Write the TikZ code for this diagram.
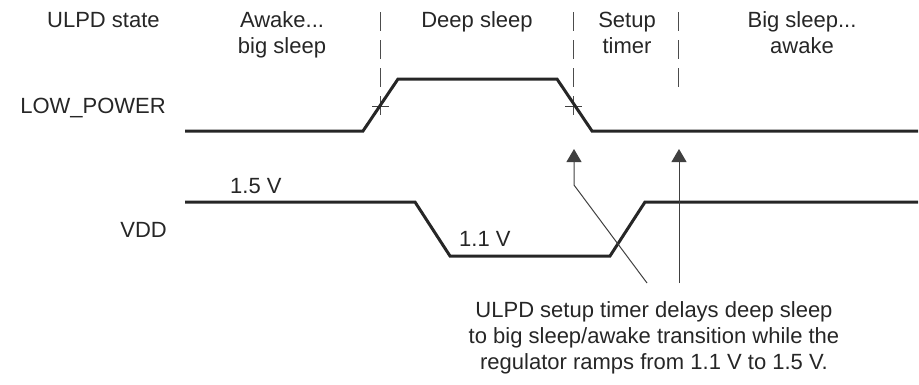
\documentclass[tikz,border=0pt]{standalone}
\usepackage{fontspec}
\setmainfont{Liberation Sans}
\usetikzlibrary{arrows.meta}
\begin{document}
\begin{tikzpicture}[x=1pt,y=-1pt,
  lbl/.style={font=\fontsize{22}{26}\selectfont, inner sep=0pt, anchor=base, text=black!85},
  sig/.style={line width=3pt, draw=black!85, line join=miter},
  guide/.style={line width=0.9pt, draw=black!70, dash pattern=on 19pt off 9pt},
  pointer/.style={line width=1pt, draw=black!75},
  tip/.style={-{Triangle[width=15pt,length=13pt]}}]
\useasboundingbox (0,0) rectangle (919,384);
% labels
\node[lbl, anchor=base west] (ulpd) at (47,27) {ULPD state};
\node[lbl] (awake1) at (282,27) {Awake...};
\node[lbl] (awake2) at (282,53) {big sleep};
\node[lbl] (deep) at (477,27) {Deep sleep};
\node[lbl] (setup1) at (627,27) {Setup};
\node[lbl] (setup2) at (627,53) {timer};
\node[lbl] (big1) at (802,27) {Big sleep...};
\node[lbl] (big2) at (802,53) {awake};
\node[lbl, anchor=base east] (lp) at (166,113) {LOW\_POWER};
\node[lbl, anchor=base east] (vdd) at (167,237) {VDD};
\node[lbl, anchor=base west] (v15) at (230,193) {1.5 V};
\node[lbl, anchor=base west] (v11) at (459,246) {1.1 V};
\node[lbl] (note1) at (654,317) {ULPD setup timer delays deep sleep};
\node[lbl] (note2) at (654,343) {to big sleep/awake transition while the};
\node[lbl] (note3) at (654,369) {regulator ramps from 1.1 V to 1.5 V.};
% dashed guides
\coordinate (d1t) at (380,12); \coordinate (d1b) at (380,115);
\coordinate (d2t) at (573,12); \coordinate (d2b) at (573,115);
\coordinate (d3t) at (678,12); \coordinate (d3b) at (678,88);
\draw[guide] (d1t) -- (d1b);
\draw[guide] (d2t) -- (d2b);
\draw[guide] (d3t) -- (d3b);
% crossing ticks
\coordinate (c1l) at (372,106); \coordinate (c1r) at (389,106);
\coordinate (c2l) at (565,106); \coordinate (c2r) at (582,106);
\draw[pointer] (c1l) -- (c1r);
\draw[pointer] (c2l) -- (c2r);
% signals
\draw[sig] (185,131) -- (363,131) -- (398,79) -- (557,79) -- (592,131) -- (918,131);
\draw[sig] (185,202) -- (415,202) -- (450,256) -- (610,256) -- (645,202) -- (918,202);
% pointers
\coordinate (a1tip) at (574,149); \coordinate (a1bend) at (574,185); \coordinate (a1end) at (647,283);
\draw[pointer, tip] (a1end) -- (a1bend) -- (a1tip);
\coordinate (a2tip) at (679,149); \coordinate (a2end) at (679,283);
\draw[pointer, tip] (a2end) -- (a2tip);
\end{tikzpicture}
\end{document}
